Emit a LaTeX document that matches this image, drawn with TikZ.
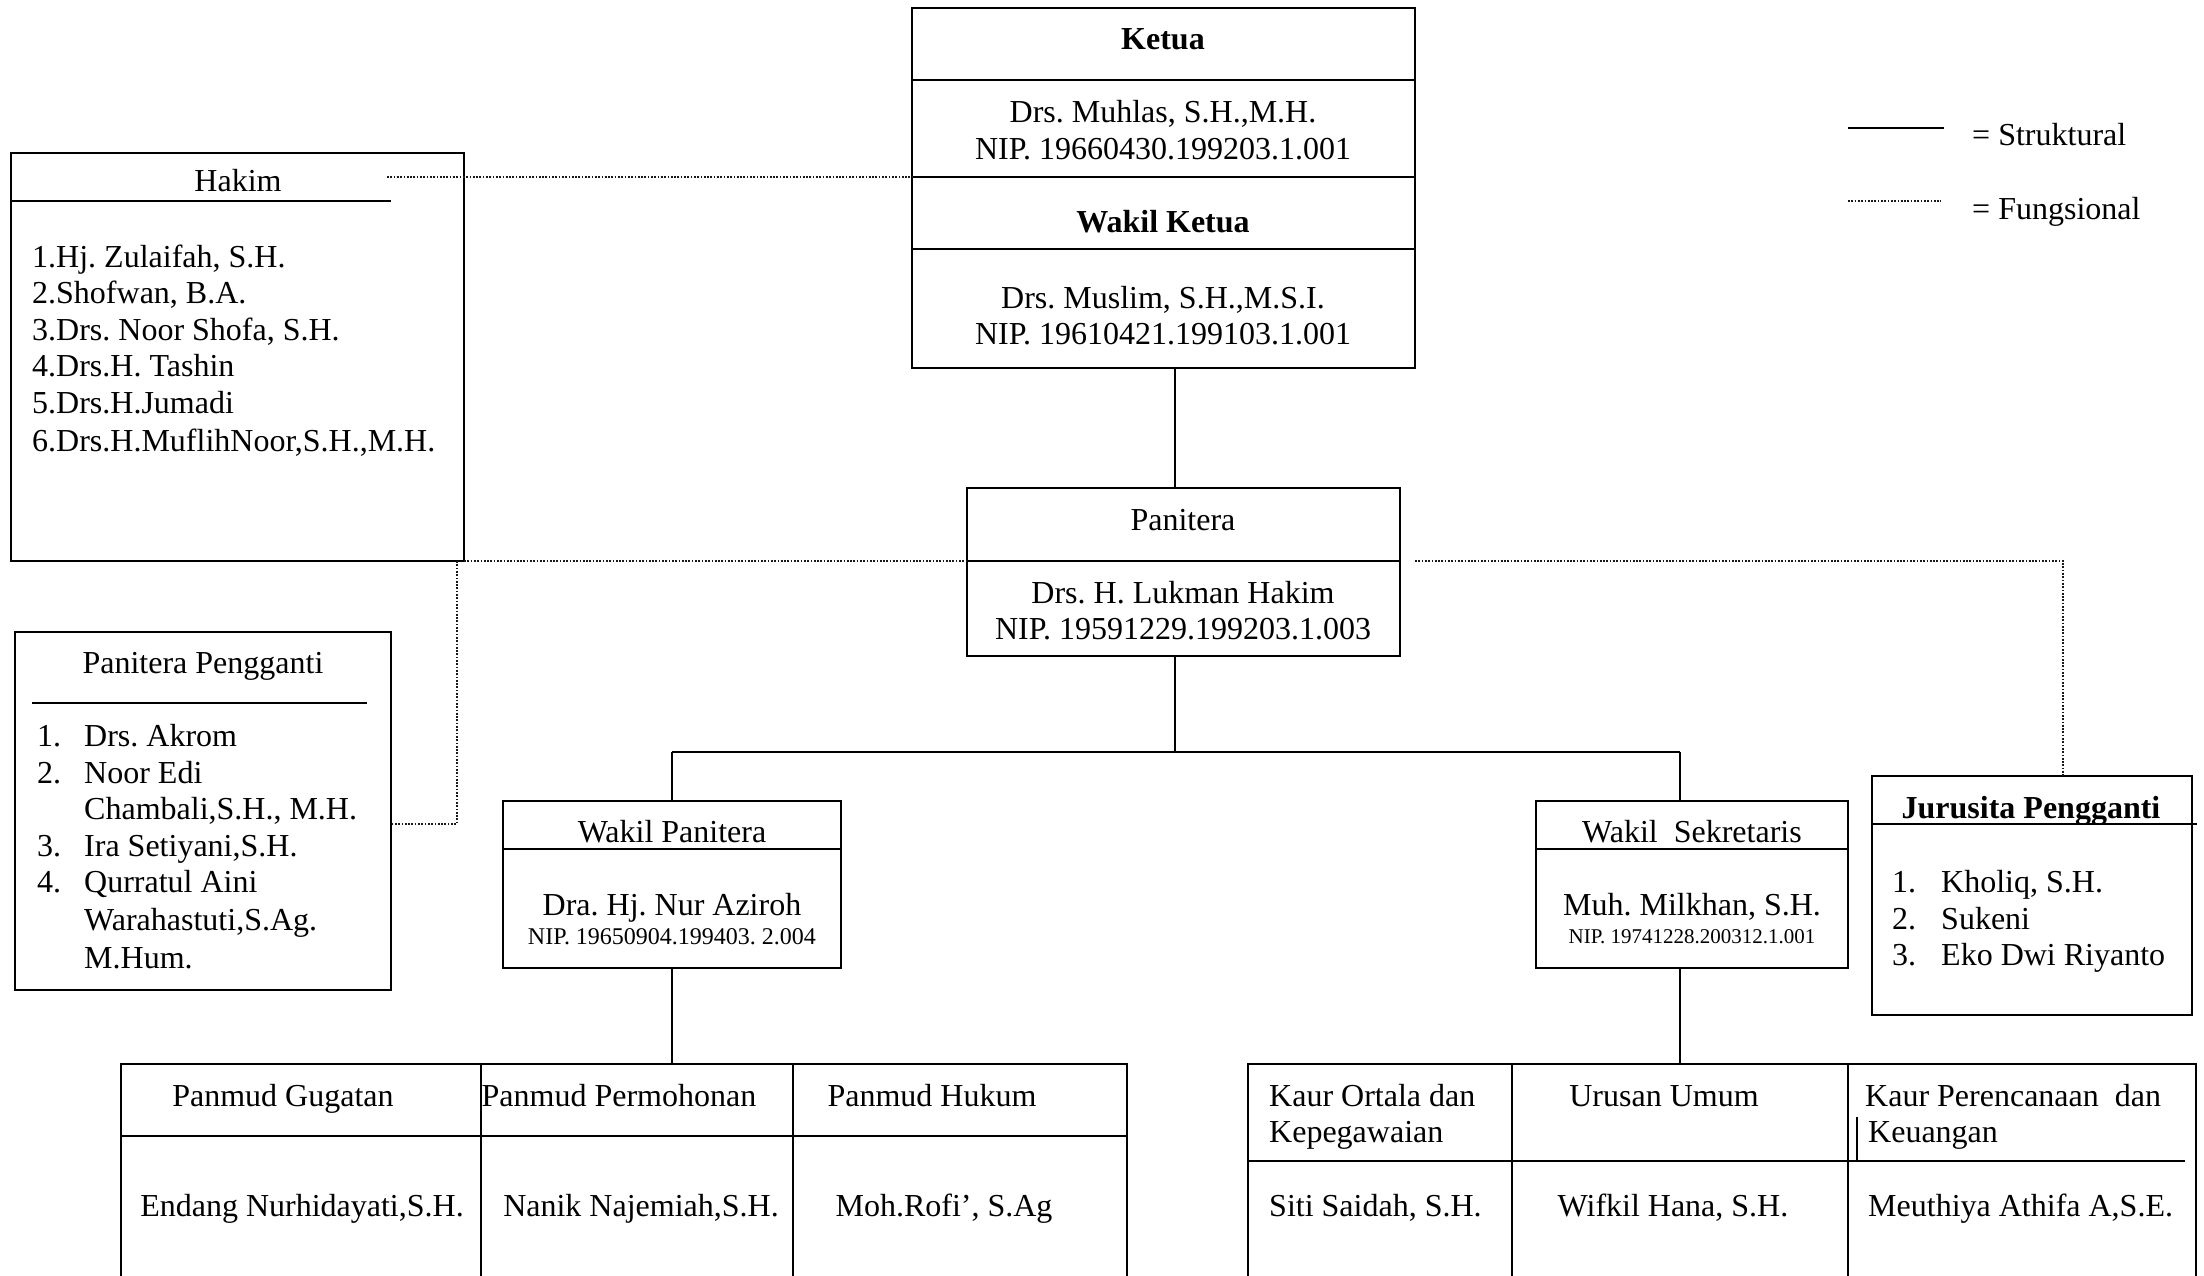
\documentclass[tikz,border=0pt]{standalone}
\usepackage{fontspec}
\setmainfont{Liberation Serif}
\frenchspacing
\begin{document}
\begin{tikzpicture}[x=1pt,y=-1pt,
  box/.style={draw, line width=2pt, rectangle, anchor=north west, inner sep=0pt, outer sep=0pt},
  sep/.style={line width=2pt},
  conn/.style={line width=2pt},
  func/.style={line width=1.7pt, dash pattern=on 1.7pt off 1.6pt, black!90},
  t/.style={anchor=base, inner sep=0pt, font=\fontsize{32}{36}\selectfont},
  tl/.style={t, anchor=base west},
  tb/.style={t, font=\fontsize{32}{36}\selectfont\bfseries},
  ts/.style={t, font=\fontsize{24}{28}\selectfont},
  tss/.style={t, font=\fontsize{21}{25}\selectfont},
]
\useasboundingbox (0,0) rectangle (2204,1276);
\clip (0,0) rectangle (2204,1276);

% ---------- Ketua / Wakil Ketua ----------
\node[box, minimum width=503pt, minimum height=360pt] (ketua) at (912,8) {};
\draw[sep] (912,80) -- (1415,80);
\draw[sep] (912,177) -- (1415,177);
\draw[sep] (912,249) -- (1415,249);
\node[tb] (tketua) at (1163,50) {Ketua};
\node[t] (nketua) at (1163,123) {Drs. Muhlas, S.H.,M.H.};
\node[t] (pketua) at (1163,160) {NIP. 19660430.199203.1.001};
\node[tb] (twakil) at (1163,233) {Wakil Ketua};
\node[t] (nwakil) at (1163,308) {Drs. Muslim, S.H.,M.S.I.};
\node[t] (pwakil) at (1163,344) {NIP. 19610421.199103.1.001};

% ---------- Panitera ----------
\node[box, minimum width=433pt, minimum height=168pt] (panitera) at (967,488) {};
\draw[sep] (967,561) -- (1400,561);
\node[t] (tpan) at (1183,530) {Panitera};
\node[t] (npan) at (1183,603) {Drs. H. Lukman Hakim};
\node[t] (ppan) at (1183,639) {NIP. 19591229.199203.1.003};

% ---------- Wakil Panitera ----------
\node[box, minimum width=338pt, minimum height=167pt] (wpan) at (503,801) {};
\draw[sep] (503,849) -- (841,849);
\node[t] (twpan) at (672,842) {Wakil Panitera};
\node[t] (nwpan) at (672,915) {Dra. Hj. Nur Aziroh};
\node[ts] (pwpan) at (672,944) {NIP. 19650904.199403. 2.004};

% ---------- Wakil Sekretaris ----------
\node[box, minimum width=312pt, minimum height=167pt] (wsek) at (1536,801) {};
\draw[sep] (1536,849) -- (1848,849);
\node[t] (twsek) at (1692,842) {Wakil\ \ Sekretaris};
\node[t] (nwsek) at (1692,915) {Muh. Milkhan, S.H.};
\node[tss] (pwsek) at (1692,943) {NIP. 19741228.200312.1.001};

% ---------- Hakim ----------
\node[box, minimum width=453pt, minimum height=408pt] (hakim) at (11,153) {};
\draw[sep] (11,201) -- (391,201);
\node[t] (thakim) at (238,192) {Hakim};
\node[tl] (h1) at (32,267) {1.Hj. Zulaifah, S.H.};
\node[tl] (h2) at (32,303) {2.Shofwan, B.A.};
\node[tl] (h3) at (32,340) {3.Drs. Noor Shofa, S.H.};
\node[tl] (h4) at (32,376) {4.Drs.H. Tashin};
\node[tl] (h5) at (32,413) {5.Drs.H.Jumadi};
\node[tl] (h6) at (32,451) {6.Drs.H.MuflihNoor,S.H.,M.H.};

% ---------- Panitera Pengganti ----------
\node[box, minimum width=376pt, minimum height=358pt] (pp) at (15,632) {};
\draw[sep] (32,703) -- (367,703);
\node[t] (tpp) at (203,673) {Panitera Pengganti};
\node[tl] (pp1n) at (37,746) {1.};
\node[tl] (pp1) at (84,746) {Drs. Akrom};
\node[tl] (pp2n) at (37,783) {2.};
\node[tl] (pp2) at (84,783) {Noor Edi};
\node[tl] (pp2b) at (84,819) {Chambali,S.H., M.H.};
\node[tl] (pp3n) at (37,856) {3.};
\node[tl] (pp3) at (84,856) {Ira Setiyani,S.H.};
\node[tl] (pp4n) at (37,892) {4.};
\node[tl] (pp4) at (84,892) {Qurratul Aini};
\node[tl] (pp4b) at (84,930) {Warahastuti,S.Ag.};
\node[tl] (pp4c) at (84,968) {M.Hum.};

% ---------- Jurusita Pengganti ----------
\node[box, minimum width=320pt, minimum height=239pt] (jp) at (1872,776) {};
\draw[line width=1.6pt] (1872,824) -- (2197,824);
\node[tb] (tjp) at (2031,818) {Jurusita Pengganti};
\node[tl] (jp1n) at (1892,892) {1.};
\node[tl] (jp1) at (1941,892) {Kholiq, S.H.};
\node[tl] (jp2n) at (1892,929) {2.};
\node[tl] (jp2) at (1941,929) {Sukeni};
\node[tl] (jp3n) at (1892,965) {3.};
\node[tl] (jp3) at (1941,965) {Eko Dwi Riyanto};

% ---------- Panmud table ----------
\node[box, minimum width=1006pt, minimum height=260pt] (panmud) at (121,1064) {};
\draw[sep] (121,1136) -- (1127,1136);
\draw[sep] (481,1064) -- (481,1330);
\draw[sep] (793,1064) -- (793,1330);
\node[t] (pm1) at (283,1106) {Panmud Gugatan};
\node[t] (pm2) at (619,1106) {Panmud Permohonan};
\node[t] (pm3) at (932,1106) {Panmud Hukum};
\node[t] (pm1n) at (302,1216) {Endang Nurhidayati,S.H.};
\node[t] (pm2n) at (641,1216) {Nanik Najemiah,S.H.};
\node[t] (pm3n) at (944,1216) {Moh.Rofi’, S.Ag};

% ---------- Kaur table ----------
\node[box, minimum width=948pt, minimum height=260pt] (kaur) at (1248,1064) {};
\draw[sep] (1248,1161) -- (2185,1161);
\draw[sep] (1512,1064) -- (1512,1330);
\draw[sep] (1848,1064) -- (1848,1330);
\draw[line width=1.4pt] (1857,1117) -- (1857,1160);
\node[tl] (k1a) at (1269,1106) {Kaur Ortala dan};
\node[tl] (k1b) at (1269,1142) {Kepegawaian};
\node[t] (k2a) at (1664,1106) {Urusan Umum};
\node[tl] (k3a) at (1865,1106) {Kaur Perencanaan\ \ dan};
\node[tl] (k3b) at (1868,1142) {Keuangan};
\node[tl] (k1n) at (1269,1216) {Siti Saidah, S.H.};
\node[t] (k2n) at (1673,1216) {Wifkil Hana, S.H.};
\node[tl] (k3n) at (1868,1216) {Meuthiya Athifa A,S.E.};

% ---------- Structural connectors ----------
\coordinate (jA) at (1175,752);
\coordinate (jL) at (672,752);
\coordinate (jR) at (1680,752);
\draw[conn] (ketua.south -| jA) -- (panitera.north -| jA);
\draw[conn] (panitera.south -| jA) -- (jA);
\draw[conn] (jL) -- (jR);
\draw[conn] (jL) -- (wpan.north -| jL);
\draw[conn] (jR) -- (wsek.north -| jR);
\draw[conn] (wpan.south -| jL) -- (panmud.north -| jL);
\draw[conn] (wsek.south -| jR) -- (kaur.north -| jR);

% ---------- Functional connectors ----------
\coordinate (fH) at (387,177);
\draw[func] (fH) -- (ketua.west |- fH);
\draw[func] (hakim.south east) -- (panitera.west |- hakim.south east);
\coordinate (fP) at (457,561);
\coordinate (fPb) at (457,824);
\draw[func] (fP) -- (fPb) -- (pp.east |- fPb);
\coordinate (fR1) at (1415,561);
\coordinate (fR2) at (2063,561);
\draw[func] (fR1) -- (fR2) -- (jp.north -| fR2);

% ---------- Legend ----------
\coordinate (ls1) at (1848,128);
\coordinate (ls2) at (1944,128);
\coordinate (lf1) at (1848,201);
\coordinate (lf2) at (1941,201);
\draw[line width=2pt] (ls1) -- (ls2);
\draw[func] (lf1) -- (lf2);
\node[tl] (lgs) at (1972,146) {= Struktural};
\node[tl] (lgf) at (1972,220) {= Fungsional};
\end{tikzpicture}
\end{document}
